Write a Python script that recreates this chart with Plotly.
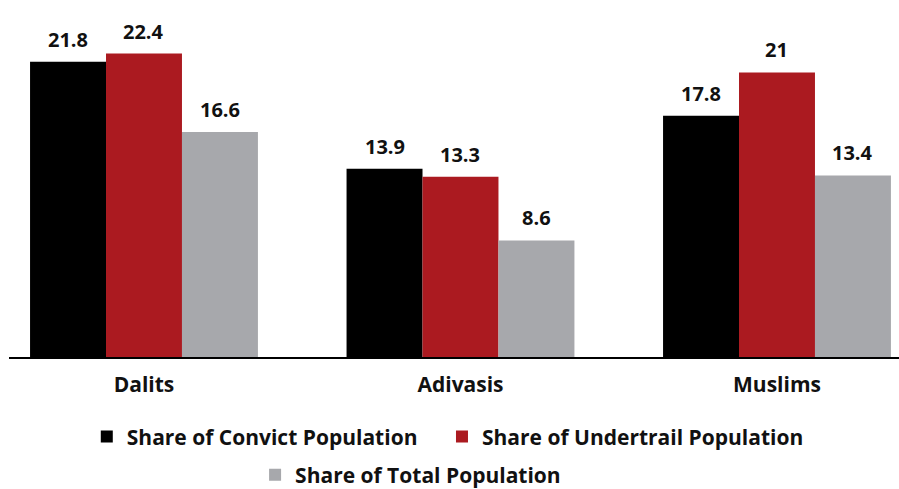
import plotly.graph_objects as go

categories = ["Dalits", "Adivasis", "Muslims"]
convict = [21.8, 13.9, 17.8]
undertrial = [22.4, 13.3, 21.0]
total_pop = [16.6, 8.6, 13.4]
series_names = ["Share of Convict Population", "Share of Undertrail Population", "Share of Total Population"]
colors = ["#000000", "#ab1a20", "#a7a8ac"]

FONT = "Open Sans"
BARGAP = 0.28
bar_w = (1 - BARGAP) / 3
legend_ids = ["legend", "legend2", "legend3"]

fig = go.Figure()
annotations = []
for i, (vals, name, col) in enumerate(zip([convict, undertrial, total_pop], series_names, colors)):
    fig.add_trace(go.Bar(
        x=categories, y=vals, name=name, marker_color=col, marker_line_width=0,
        legend=legend_ids[i], showlegend=True,
    ))
    for j, v in enumerate(vals):
        annotations.append(dict(
            x=j + (i - 1) * bar_w, y=v, xref="x", yref="y",
            text=f"{v:g}", showarrow=False, yanchor="bottom", yshift=7,
            font=dict(family=FONT, size=20, color="#111111", weight="bold"),
        ))

legfont = dict(family=FONT, size=21, color="#111111", weight="bold")
fig.update_layout(
    width=899, height=489,
    showlegend=True,
    margin=dict(l=9, r=0, t=0, b=132, autoexpand=False),
    plot_bgcolor="white", paper_bgcolor="white",
    barmode="group", bargap=BARGAP, bargroupgap=0,
    font=dict(family=FONT, size=20, color="#111111"),
    xaxis=dict(range=[-0.4265, 2.3855], showline=True, linecolor="#000000", linewidth=2,
               ticks="", ticklabelstandoff=8,
               tickfont=dict(family=FONT, size=21, color="#111111", weight="bold"),
               showgrid=False, zeroline=False),
    yaxis=dict(range=[0, 26.35], visible=False, showgrid=False),
    annotations=annotations,
    legend=dict(orientation="h", x=0.0874, xanchor="left", y=-0.224, yanchor="middle",
                font=legfont, bgcolor="rgba(0,0,0,0)", visible=True),
    legend2=dict(orientation="h", x=0.4865, xanchor="left", y=-0.224, yanchor="middle",
                 font=legfont, bgcolor="rgba(0,0,0,0)"),
    legend3=dict(orientation="h", x=0.2765, xanchor="left", y=-0.331, yanchor="middle",
                 font=legfont, bgcolor="rgba(0,0,0,0)"),
)
fig.write_html("out.html")
